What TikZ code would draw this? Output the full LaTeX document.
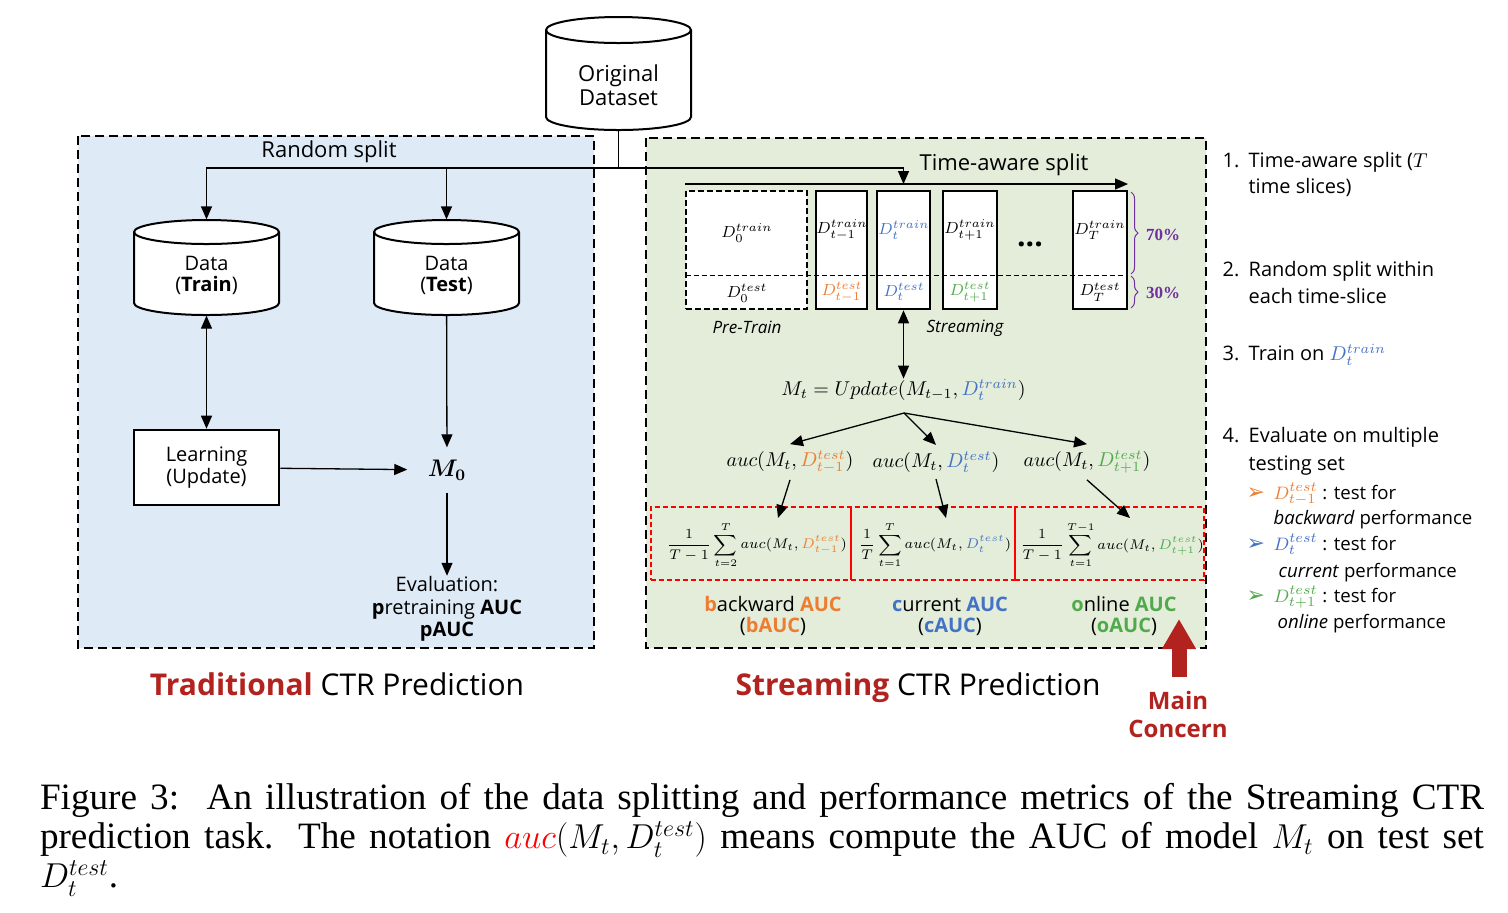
\documentclass[tikz,border=0pt]{standalone}
\usepackage{amsmath}
\usepackage{fontspec}
\setmainfont{Liberation Serif}
\setsansfont{Open Sans}
\newfontfamily\dingfont{DejaVu Sans}
\usetikzlibrary{arrows.meta,decorations.pathreplacing}

\definecolor{bluefill}{RGB}{222,235,247}
\definecolor{greenfill}{RGB}{227,237,218}
\definecolor{aucorange}{RGB}{237,125,49}
\definecolor{aucblue}{RGB}{68,114,196}
\definecolor{aucgreen}{RGB}{80,170,75}
\definecolor{concern}{RGB}{178,34,30}
\definecolor{bracepurple}{RGB}{112,48,160}

\tikzset{every picture/.style={line width=0.65pt}}
\tikzset{
  panel/.style={draw, line width=1.3pt, dash pattern=on 4.5pt off 2.5pt},
  canbody/.style={draw, fill=white, line width=1pt},
  canslot/.style={inner sep=0pt, minimum width=72.5pt},
  slicebox/.style={draw, line width=1.3pt, fill=white, minimum height=59pt, inner sep=0pt},
  redbox/.style={draw=red, dash pattern=on 2.5pt off 1.5pt, line width=0.7pt, minimum height=36.5pt, inner sep=0pt},
  ar/.style={-{Triangle[width=5.5pt,length=6.5pt]}},
  arboth/.style={{Triangle[width=5.5pt,length=6.5pt]}-{Triangle[width=5.5pt,length=6.5pt]}},
  txt/.style={inner sep=0pt, align=center, font=\sffamily\fontsize{10}{10.5}\selectfont},
  mathlbl/.style={inner sep=0pt, font=\fontsize{10}{12}\selectfont},
  auclbl/.style={mathlbl, inner ysep=3pt},
  sumlbl/.style={inner sep=0pt, font=\fontsize{7.3}{9}\selectfont},
  slbl/.style={inner sep=0pt, font=\fontsize{8.5}{10}\selectfont},
  pct/.style={inner sep=0pt, text=bracepurple, font=\rmfamily\bfseries\fontsize{8.5}{10}\selectfont},
  listtxt/.style={inner sep=0pt, anchor=west, text height=1.6ex, text depth=0.4ex, font=\sffamily\fontsize{10}{12}\selectfont},
  subtxt/.style={listtxt, font=\sffamily\fontsize{9.3}{11}\selectfont},
  title/.style={inner sep=0pt, font=\sffamily\fontsize{15}{18}\selectfont},
}

\begin{document}
\begin{tikzpicture}[x=0.5pt,y=0.5pt,yscale=-1,xscale=1]
\path[use as bounding box] (0,0) rectangle (1508,912);

%Shape: Rectangle (traditional panel)
\draw[panel, fill=bluefill] (78,136) rectangle (594,648);
%Shape: Rectangle (streaming panel)
\draw[panel, fill=greenfill] (646,138) rectangle (1206,648);

%Shape: Can [original dataset]
\draw[canbody] (546,30) -- (546,117) arc[start angle=180, end angle=0, x radius=72.5, y radius=13] -- (691,30) arc[start angle=0, end angle=-180, x radius=72.5, y radius=13] -- cycle;
\draw[line width=1pt] (546,30) arc[start angle=180, end angle=0, x radius=72.5, y radius=13];
\node[canslot, minimum height=56.5pt] (orig) at (618.5,73.5) {};
\node[txt, font=\sffamily\fontsize{11}{12}\selectfont] (origtxt) at (618.5,85) {Original\\Dataset};
%Shape: Can [train data]
\draw[canbody] (134,232) -- (134,303) arc[start angle=180, end angle=0, x radius=72.5, y radius=12] -- (279,232) arc[start angle=0, end angle=-180, x radius=72.5, y radius=12] -- cycle;
\draw[line width=1pt] (134,232) arc[start angle=180, end angle=0, x radius=72.5, y radius=12];
\node[canslot, minimum height=47.5pt] (train) at (206.5,267.5) {};
\node[txt] (traintxt) at (206.5,275) {Data\\(\textbf{Train})};
%Shape: Can [test data]
\draw[canbody] (374,232) -- (374,303) arc[start angle=180, end angle=0, x radius=72.5, y radius=12] -- (519,232) arc[start angle=0, end angle=-180, x radius=72.5, y radius=12] -- cycle;
\draw[line width=1pt] (374,232) arc[start angle=180, end angle=0, x radius=72.5, y radius=12];
\node[canslot, minimum height=47.5pt] (test) at (446.5,267.5) {};
\node[txt] (testtxt) at (446.5,275) {Data\\(\textbf{Test})};
%Shape: Rectangle
\node[draw, fill=white, line width=1.3pt, minimum width=72.5pt, minimum height=37.5pt, txt, font=\sffamily\fontsize{10}{11}\selectfont] (learn) at (206.5,467.5) {Learning\\(Update)};

% model and evaluation
\node[inner xsep=10pt, inner ysep=6pt, font=\fontsize{12}{14}\selectfont] (m0) at (447,470) {$\boldsymbol{M_0}$};
\node[txt, font=\sffamily\fontsize{10}{11.3}\selectfont] (eval) at (447,609) {Evaluation:\\\textbf{p}retraining \textbf{AUC}\\\textbf{pAUC}};

% splits
\node[txt, font=\sffamily\fontsize{11}{12}\selectfont] (rsplit) at (329,152) {Random split};
\node[txt, font=\sffamily\fontsize{11}{12}\selectfont] (tsplit) at (1004,165) {Time-aware split};
\coordinate (split) at (618.5,168);
\coordinate (tdown) at (903.5,184);
\coordinate (tl0) at (685,184);
\coordinate (tl1) at (1128,184);

%Straight Lines
\draw (orig) -- (split);
\draw[ar] (split) -| (train);
\draw[ar] (split -| test) -- (test);
\draw[ar] (split) -| (tdown);
\draw[ar] (tl0) -- (tl1);
\draw[arboth] (train) -- (learn);
\draw[ar] (learn) -- (m0);
\draw[ar] (test) -- (m0);
\draw[ar] (m0) -- (eval);

%Shape: time slices
\node[slicebox, dash pattern=on 3pt off 1.5pt, minimum width=60.5pt] (d0) at (746.5,250) {};
\node[slicebox, minimum width=25.5pt] (dtm1) at (841.5,250) {};
\node[slicebox, minimum width=26.5pt] (dt) at (903.5,250) {};
\node[slicebox, minimum width=27pt] (dtp1) at (970,250) {};
\node[slicebox, minimum width=27pt] (dT) at (1100,250) {};
\draw[line width=0.5pt, dash pattern=on 2.5pt off 1.5pt] (686,275) -- (1127,275);

\node[slbl] (l0a) at (747,233) {$D_0^{train}$};
\node[slbl] (l0b) at (747,293) {$D_0^{test}$};
\node[slbl] (l1a) at (842,230) {$D_{t-1}^{train}$};
\node[slbl, text=aucorange] (l1b) at (842,292) {$D_{t-1}^{test}$};
\node[slbl, text=aucblue] (l2a) at (904,230) {$D_{t}^{train}$};
\node[slbl, text=aucblue] (l2b) at (904,292) {$D_{t}^{test}$};
\node[slbl] (l3a) at (970,230) {$D_{t+1}^{train}$};
\node[slbl, text=aucgreen] (l3b) at (970,292) {$D_{t+1}^{test}$};
\node[slbl] (l4a) at (1100,230) {$D_{T}^{train}$};
\node[slbl] (l4b) at (1100,292) {$D_{T}^{test}$};
\node[inner sep=0pt, font=\sffamily\bfseries\fontsize{15}{16}\selectfont] (dots) at (1030,244) {...};

%Curly braces
\draw[bracepurple, line width=0.5pt, decorate, decoration={brace, amplitude=3.5pt}] (1131,192) -- (1131,274);
\draw[bracepurple, line width=0.5pt, decorate, decoration={brace, amplitude=3.5pt}] (1131,276) -- (1131,308);
\node[pct] (p70) at (1163,235) {70\%};
\node[pct] (p30) at (1163,293) {30\%};

\node[txt, font=\sffamily\itshape\fontsize{8.5}{10}\selectfont] (pretrain) at (747,327) {Pre-Train};
\node[txt, font=\sffamily\itshape\fontsize{8.5}{10}\selectfont] (stream) at (965,328) {Streaming};

% update and auc
\node[mathlbl, font=\fontsize{9.6}{12}\selectfont] (upd) at (903.5,390) {$M_t = Update(M_{t-1}, \textcolor{aucblue}{D_t^{train}})$};
\node[auclbl] (auc1) at (790,462) {$auc(M_t, \textcolor{aucorange}{D_{t-1}^{test}})$};
\node[auclbl] (auc2) at (936,462) {$auc(M_t, \textcolor{aucblue}{D_{t}^{test}})$};
\node[auclbl] (auc3) at (1087,462) {$auc(M_t, \textcolor{aucgreen}{D_{t+1}^{test}})$};
\coordinate (ufork) at (904,413);
\draw[arboth] (dt) -- (upd);
\draw[ar] (ufork) -- (auc1.north);
\draw[ar] (ufork) -- (auc2.north);
\draw[ar] (ufork) -- (auc3.north);

%Shape: red boxes
\node[redbox, minimum width=100pt] (b1) at (751,543.5) {};
\node[redbox, minimum width=82pt] (b2) at (933,543.5) {};
\node[redbox, minimum width=94.5pt] (b3) at (1109.5,543.5) {};
\node[sumlbl] (s1) at (757,545) {$\displaystyle\frac{1}{T-1}\sum_{t=2}^{T} auc(M_t, \textcolor{aucorange}{D_{t-1}^{test}})$};
\node[sumlbl] (s2) at (935,545) {$\displaystyle\frac{1}{T}\sum_{t=1}^{T} auc(M_t, \textcolor{aucblue}{D_{t}^{test}})$};
\node[sumlbl] (s3) at (1112,545) {$\displaystyle\frac{1}{T-1}\sum_{t=1}^{T-1} auc(M_t, \textcolor{aucgreen}{D_{t+1}^{test}})$};
\coordinate (f1) at (778,518);
\coordinate (f2) at (946,518);
\coordinate (f3) at (1130,518);
\draw[ar] (auc1.south) -- (f1);
\draw[ar] (auc2.south) -- (f2);
\draw[ar] (auc3.south) -- (f3);

\node[txt] (bauc) at (773,616) {\textcolor{aucorange}{\textbf{b}}ackward \textcolor{aucorange}{\textbf{AUC}}\\(\textcolor{aucorange}{\textbf{bAUC}})};
\node[txt] (cauc) at (950,616) {\textcolor{aucblue}{\textbf{c}}urrent \textcolor{aucblue}{\textbf{AUC}}\\(\textcolor{aucblue}{\textbf{cAUC}})};
\node[txt] (oauc) at (1124,616) {\textcolor{aucgreen}{\textbf{o}}nline \textcolor{aucgreen}{\textbf{AUC}}\\(\textcolor{aucgreen}{\textbf{oAUC}})};

% main concern
\node[txt, text=concern, font=\sffamily\bfseries\fontsize{12}{14}\selectfont] (concern) at (1178,714) {Main\\Concern};
\coordinate (cbase) at (1179,677);
\coordinate (ctip) at (1179,619);
\draw[concern, line width=7.5pt, -{Triangle[width=16pt,length=15pt]}] (cbase) -- (ctip);

% titles
\node[title] (trad) at (337,684) {\textcolor{concern}{\textbf{Traditional}} CTR Prediction};
\node[title] (strm) at (918,688) {\textcolor{concern}{\textbf{Streaming}} CTR Prediction};

% steps
\node[listtxt] (n1) at (1222,162) {1.};
\node[listtxt] (t1a) at (1248,162) {Time-aware split ($T$};
\node[listtxt] (t1b) at (1248,188) {time slices)};
\node[listtxt] (n2) at (1222,271) {2.};
\node[listtxt] (t2a) at (1248,271) {Random split within};
\node[listtxt] (t2b) at (1248,298) {each time-slice};
\node[listtxt] (n3) at (1222,355) {3.};
\node[listtxt] (t3a) at (1248,355) {Train on \textcolor{aucblue}{$D_t^{train}$}};
\node[listtxt] (n4) at (1222,437) {4.};
\node[listtxt] (t4a) at (1248,437) {Evaluate on multiple};
\node[listtxt] (t4b) at (1248,465) {testing set};
\node[subtxt, text=aucorange, font=\dingfont\fontsize{11}{12}\selectfont] (k1) at (1246,494) {➢};
\node[subtxt] (u1a) at (1273,494) {\textcolor{aucorange}{$D_{t-1}^{test}$} : test for};
\node[subtxt] (u1b) at (1273,519) {\textit{backward} performance};
\node[subtxt, text=aucblue, font=\dingfont\fontsize{11}{12}\selectfont] (k2) at (1246,545) {➢};
\node[subtxt] (u2a) at (1273,545) {\textcolor{aucblue}{$D_{t}^{test}$} : test for};
\node[subtxt] (u2b) at (1278,572) {\textit{current} performance};
\node[subtxt, text=aucgreen, font=\dingfont\fontsize{11}{12}\selectfont] (k3) at (1246,597) {➢};
\node[subtxt] (u3a) at (1273,597) {\textcolor{aucgreen}{$D_{t+1}^{test}$} : test for};
\node[subtxt] (u3b) at (1277,623) {\textit{online} performance};

% caption
\node[inner sep=0pt, text width=722pt, align=justify, font=\rmfamily\fontsize{18.6}{19.5}\selectfont] (cap) at (762,840)
  {Figure 3:\hspace{0.2em} An illustration of the data splitting and performance metrics of the Streaming CTR\linebreak prediction task. The notation \textcolor{red}{$auc$}$(M_t, D_t^{test})$ means compute the AUC of model $M_t$ on test set\linebreak $D_t^{test}$.};

\end{tikzpicture}
\end{document}
